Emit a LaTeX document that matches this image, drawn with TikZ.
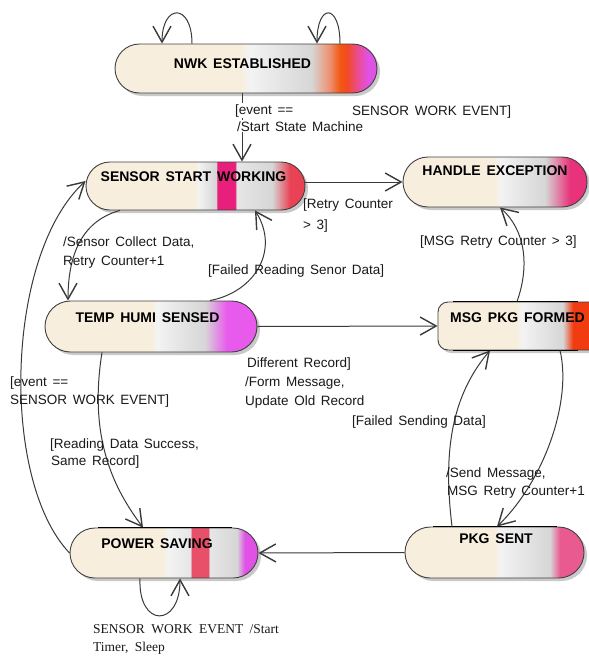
\documentclass[tikz,border=0pt]{standalone}
\usepackage{fontspec}
\usetikzlibrary{arrows.meta,shadows}
\newfontfamily\lblfont{Liberation Sans}[WordSpace=1.9]
\newfontfamily\ttlfont{Liberation Sans}[WordSpace=1.5]
\newfontfamily\serfont{Liberation Serif}[WordSpace=1.9]

\definecolor{cream}{HTML}{F8EEDD}
\definecolor{paleg}{HTML}{F3F3F3}
\definecolor{midg}{HTML}{D6D6D6}
\definecolor{lightg}{HTML}{E6E6E6}
\definecolor{linec}{HTML}{3A3A3A}
\definecolor{edgec}{HTML}{404040}
\definecolor{salmon}{HTML}{EE9070}
\definecolor{orng}{HTML}{F25812}
\definecolor{orred}{HTML}{F24A24}
\definecolor{rosepk}{HTML}{EA4C8C}
\definecolor{magn}{HTML}{E052E6}
\definecolor{hotpk}{HTML}{E8207C}
\definecolor{redpk}{HTML}{E84254}
\definecolor{expk}{HTML}{E8327A}
\definecolor{violet}{HTML}{E85AEC}
\definecolor{bandpk}{HTML}{E8506A}
\definecolor{pkspk}{HTML}{E85A90}
\definecolor{fired}{HTML}{F03C10}

% horizontal fills of the states (bbox maps onto 25bp..75bp)
\pgfdeclarehorizontalshading{nwkshade}{100bp}{color(0bp)=(cream); color(48.9bp)=(cream);
  color(50.8bp)=(paleg); color(62.5bp)=(midg); color(66bp)=(salmon); color(67.9bp)=(orng);
  color(69.3bp)=(orred); color(71.2bp)=(rosepk); color(73.3bp)=(magn); color(100bp)=(magn)}
\pgfdeclarehorizontalshading{sswshade}{100bp}{color(0bp)=(cream); color(49.9bp)=(cream);
  color(50.6bp)=(paleg); color(54.7bp)=(midg); color(55bp)=(hotpk); color(59bp)=(hotpk);
  color(59.4bp)=(lightg); color(67.5bp)=(midg); color(71.6bp)=(redpk); color(100bp)=(redpk)}
\pgfdeclarehorizontalshading{hexshade}{100bp}{color(0bp)=(cream); color(50bp)=(cream);
  color(51.4bp)=(paleg); color(63.6bp)=(midg); color(70.4bp)=(expk); color(100bp)=(expk)}
\pgfdeclarehorizontalshading{thsshade}{100bp}{color(0bp)=(cream); color(50.2bp)=(cream);
  color(51.4bp)=(paleg); color(62.7bp)=(midg); color(67.9bp)=(violet); color(100bp)=(violet)}
\pgfdeclarehorizontalshading{pwsshade}{100bp}{color(0bp)=(cream); color(49.7bp)=(cream);
  color(51.1bp)=(paleg); color(57bp)=(lightg); color(57.4bp)=(bandpk); color(61.7bp)=(bandpk);
  color(62.2bp)=(lightg); color(69.4bp)=(midg); color(71.5bp)=(magn); color(100bp)=(magn)}
\pgfdeclarehorizontalshading{pksshade}{100bp}{color(0bp)=(cream); color(50.1bp)=(cream);
  color(51.5bp)=(paleg); color(65.5bp)=(midg); color(68.3bp)=(pkspk); color(100bp)=(pkspk)}
\pgfdeclarehorizontalshading{mpfshade}{100bp}{color(0bp)=(cream); color(46.7bp)=(cream);
  color(48.1bp)=(paleg); color(59.3bp)=(midg); color(62.1bp)=(fired); color(100bp)=(fired)}

\begin{document}
\begin{tikzpicture}[x=1pt,y=-1pt,
  arr/.style={draw=linec, line width=1pt,
    -{Straight Barb[length=16pt,width=18pt,line width=1.4pt]}},
  state/.style={draw=edgec, line width=0.9pt, inner sep=0pt, text height=10pt,
    text=black, shade,
    font=\ttlfont\fontsize{14}{16}\selectfont\bfseries,
    drop shadow={shadow xshift=3pt, shadow yshift=-3pt, fill=black!42}},
  topbar/.style={draw=black, line width=1.6pt},
  lbl/.style={font=\lblfont\fontsize{13.5}{16}\selectfont, anchor=base west,
    inner sep=0pt, text=black!90},
  slbl/.style={font=\serfont\fontsize{13.5}{16}\selectfont, anchor=base west,
    inner sep=0pt, text=black!90}]

\useasboundingbox (0,0) rectangle (589,656);
\fill[white] (0,0) rectangle (589,656);

% states
\node[state, shading=nwkshade, minimum width=262pt, minimum height=49pt,
  rounded corners=24.5pt, text depth=11pt] (nwk) at (246,68.5)
  {NWK ESTABLISHED\hspace*{7pt}};
\node[state, shading=sswshade, minimum width=219pt, minimum height=48pt,
  rounded corners=24pt, text depth=20pt] (ssw) at (195.5,186)
  {SENSOR START WORKING\hspace*{4pt}};
\node[state, shading=hexshade, minimum width=184pt, minimum height=50pt,
  rounded corners=25pt, text depth=24pt] (hex) at (495,182)
  {HANDLE EXCEPTION};
\node[state, shading=thsshade, minimum width=212pt, minimum height=51pt,
  rounded corners=25.5pt, text depth=19pt] (ths) at (151,326.5)
  {TEMP HUMI SENSED\hspace*{7pt}};
\node[state, shading=mpfshade, minimum width=182pt, minimum height=48pt,
  rounded corners=10pt, text depth=18pt] (mpf) at (529,326)
  {MSG PKG FORMED\hspace*{23pt}};
\node[state, shading=pwsshade, minimum width=188pt, minimum height=50pt,
  rounded corners=25pt, text depth=20pt] (pws) at (164,553)
  {POWER SAVING\hspace*{14pt}};
\node[state, shading=pksshade, minimum width=179pt, minimum height=51pt,
  rounded corners=25.5pt, text depth=28pt] (pks) at (494.5,552.5)
  {\hspace*{3pt}PKG SENT};

% heavier strokes along the straight edges
\draw[topbar] ([xshift=-66pt]pws.north) -- ([xshift=68pt]pws.north);
\draw[topbar] ([xshift=-61.5pt]pks.north) -- ([xshift=62.5pt]pks.north);
\draw[topbar] ([xshift=-76pt]mpf.north) -- ([xshift=49pt]mpf.north);
\draw[topbar] ([xshift=-76pt]mpf.south) -- ([xshift=49pt]mpf.south);

% self transitions
\draw[arr] ([xshift=-54pt]nwk.north) .. controls (192,3) and (162,3) .. ([xshift=-84pt]nwk.north);
\draw[arr] ([xshift=94pt]nwk.north) .. controls (340,3) and (317,3) .. ([xshift=71pt]nwk.north);
\draw[arr] ([xshift=-24pt]pws.south) .. controls (138,628) and (180,628) .. ([xshift=16pt]pws.south);

% transitions
\draw[arr] ([xshift=-4pt]nwk.south) -- ([xshift=46.5pt]ssw.north);
\draw[arr] (ssw.east |- hex.west) -- (hex.west);
\draw[arr] ([xshift=-75.5pt]ssw.south) .. controls (85,220) and (68,250) .. ([xshift=-83pt]ths.north);
\draw[arr] ([xshift=59pt]ths.north) .. controls (255,292) and (280,250) .. ([xshift=59.5pt]ssw.south);
\draw[arr] (ths.east) -- (mpf.west);
\draw[arr] ([xshift=-12pt]mpf.north) .. controls (530,265) and (525,230) .. ([xshift=5pt]hex.south);
\draw[arr] ([xshift=31pt]mpf.south) .. controls (572,400) and (545,480) .. ([xshift=2.5pt]pks.north);
\draw[arr] ([xshift=-42.5pt]pks.north) .. controls (444,460) and (448,400) .. ([xshift=-39pt]mpf.south);
\draw[arr] (pks.west) -- (pws.east);
\draw[arr] ([xshift=-49pt]ths.south) .. controls (88,440) and (115,490) .. ([xshift=-21pt]pws.north);
\draw[arr] (pws.west) .. controls (0,480) and (5,255) .. ([yshift=5pt]ssw.west);

% transition labels
\node[lbl, fill=white, inner sep=1pt] (l1a) at (234,114) {[event ==};
\node[lbl] (l1b) at (352,115) {SENSOR WORK EVENT]};
\node[lbl, fill=white, inner sep=1pt] (l1c) at (236,131) {/Start State Machine};
\node[lbl] (l2a) at (303,208) {[Retry Counter};
\node[lbl] (l2b) at (303,229) {> 3]};
\node[lbl] (l3a) at (63,246) {/Sensor Collect Data,};
\node[lbl] (l3b) at (63,265) {Retry Counter+1};
\node[lbl] (l4) at (208,274) {[Failed Reading Senor Data]};
\node[lbl] (l5a) at (247,367) {Different Record]};
\node[lbl] (l5b) at (245,386) {/Form Message,};
\node[lbl] (l5c) at (245,405) {Update Old Record};
\node[lbl] (l6) at (420,245) {[MSG Retry Counter > 3]};
\node[lbl] (l7a) at (446,477) {/Send Message,};
\node[lbl] (l7b) at (447,495) {MSG Retry Counter+1};
\node[lbl] (l8) at (352,425) {[Failed Sending Data]};
\node[lbl] (l9a) at (10,386) {[event ==};
\node[lbl] (l9b) at (10,404) {SENSOR WORK EVENT]};
\node[lbl] (l10a) at (50,448) {[Reading Data Success,};
\node[lbl] (l10b) at (51,465) {Same Record]};
\node[slbl] (l11a) at (93,633) {SENSOR WORK EVENT /Start};
\node[slbl] (l11b) at (93,651) {Timer, Sleep};
\end{tikzpicture}
\end{document}
